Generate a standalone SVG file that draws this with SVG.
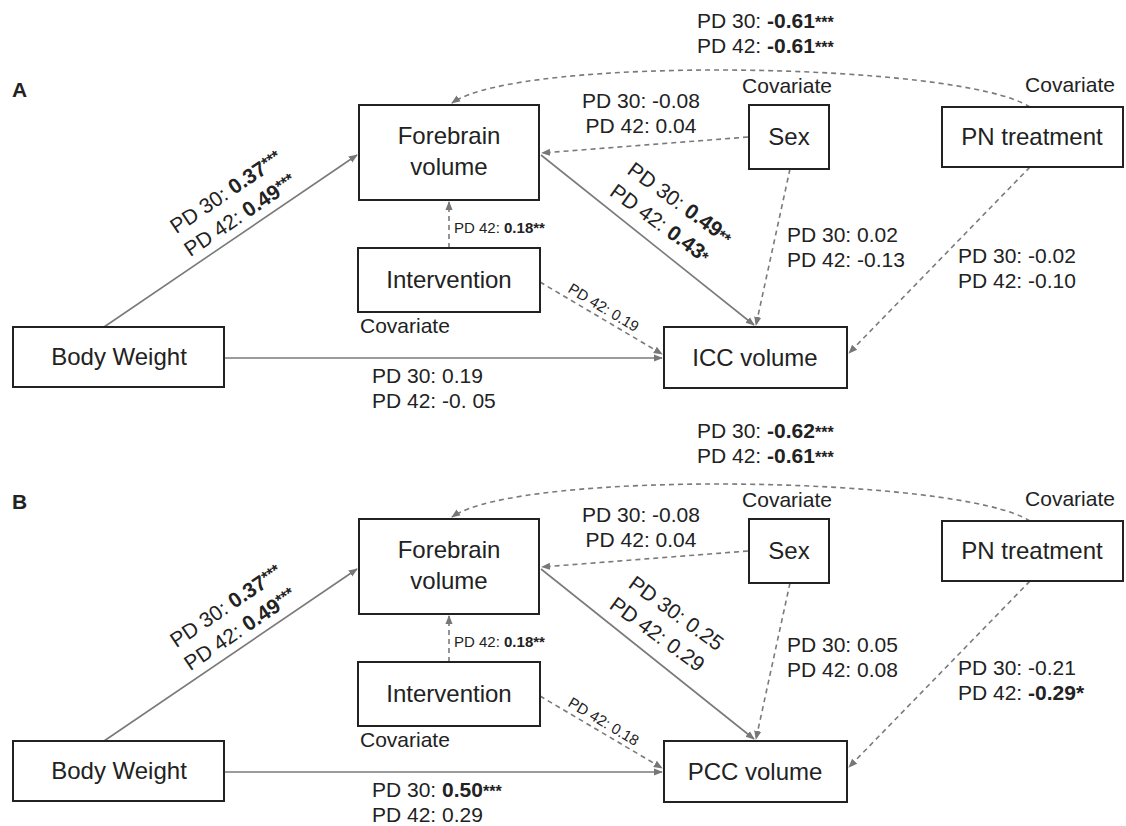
<svg xmlns="http://www.w3.org/2000/svg" width="1126" height="826" viewBox="0 0 1126 826">
<style>
text{font-family:"Liberation Sans",Arial,sans-serif;fill:#222}
.box{fill:#fff;stroke:#222;stroke-width:2}
.nt{font-size:24px;text-anchor:middle}
.lb{font-size:21px}
.sm{font-size:15px}
.b{font-weight:bold}
.st{font-size:16px;font-weight:bold}
.ln{fill:none;stroke:#7a7a7a;stroke-width:1.6}
.ds{stroke-dasharray:5,4}
.pl{font-size:21px;font-weight:bold}
</style>
<defs>
<marker id="ah" viewBox="0 0 10 10" refX="9" refY="5" markerWidth="9" markerHeight="9" markerUnits="userSpaceOnUse" orient="auto"><path d="M0,1 L10,5 L0,9 z" fill="#777"/></marker>
</defs>
<rect width="1126" height="826" fill="#fff"/>

<!-- Panel A -->
<g id="panelA">
<text class="pl" x="12" y="97">A</text>
<g id="connectorsA">
<path class="ln" d="M104,327 L357,155" marker-end="url(#ah)"/>
<path class="ln" d="M224,358 L662,358" marker-end="url(#ah)"/>
<path class="ln ds" d="M449,248 L449,202" marker-end="url(#ah)"/>
<path class="ln ds" d="M540,282 L662,354" marker-end="url(#ah)"/>
<path class="ln" d="M541,155 L754,325" marker-end="url(#ah)"/>
<path class="ln ds" d="M748,137 L542,153" marker-end="url(#ah)"/>
<path class="ln ds" d="M790,169 L756,325" marker-end="url(#ah)"/>
<path class="ln ds" d="M1030,167 L849,353" marker-end="url(#ah)"/>
<path class="ln ds" d="M1030,107 C960,62 520,55 452,103" marker-end="url(#ah)"/>
</g>
<g id="A-forebrain"><rect class="box" x="359" y="105" width="180" height="95"/><text class="nt" x="449" y="144">Forebrain</text><text class="nt" x="449" y="175">volume</text></g>
<g id="A-intervention"><rect class="box" x="358" y="248" width="182" height="64"/><text class="nt" x="449" y="288">Intervention</text><text class="lb" x="360" y="333">Covariate</text></g>
<g id="A-bodyweight"><rect class="box" x="13" y="327" width="211" height="60"/><text class="nt" x="119" y="365">Body Weight</text></g>
<g id="A-icc"><rect class="box" x="664" y="327" width="183" height="61"/><text class="nt" x="755" y="366">ICC volume</text></g>
<g id="A-sex"><rect class="box" x="749" y="105" width="80" height="64"/><text class="nt" x="789" y="145">Sex</text><text class="lb" x="787" y="93" text-anchor="middle">Covariate</text></g>
<g id="A-pn"><rect class="box" x="942" y="107" width="181" height="60"/><text class="nt" x="1032" y="145">PN treatment</text><text class="lb" x="1070" y="92" text-anchor="middle">Covariate</text></g>
<g id="labelsA">
<text class="lb" x="697" y="28">PD 30: <tspan class="b">-0.61</tspan><tspan class="st">***</tspan></text>
<text class="lb" x="697" y="53">PD 42: <tspan class="b">-0.61</tspan><tspan class="st">***</tspan></text>
<text class="lb" x="641" y="108" text-anchor="middle">PD 30: -0.08</text>
<text class="lb" x="641" y="133" text-anchor="middle">PD 42: 0.04</text>
<text class="lb" text-anchor="middle" transform="translate(230,198) rotate(-34)">PD 30: <tspan class="b">0.37</tspan><tspan class="st" dy="-4">***</tspan></text>
<text class="lb" text-anchor="middle" transform="translate(244,221) rotate(-34)">PD 42: <tspan class="b">0.49</tspan><tspan class="st" dy="-4">***</tspan></text>
<text class="lb" text-anchor="middle" transform="translate(676,209) rotate(36)">PD 30: <tspan class="b">0.49</tspan><tspan class="st">**</tspan></text>
<text class="lb" text-anchor="middle" transform="translate(656,229) rotate(36)">PD 42: <tspan class="b">0.43</tspan><tspan class="st">*</tspan></text>
<text class="sm" x="454" y="233">PD 42: <tspan class="b">0.18**</tspan></text>
<text class="sm" text-anchor="middle" transform="translate(601,312) rotate(31)">PD 42: 0.19</text>
<text class="lb" x="787" y="242">PD 30: 0.02</text>
<text class="lb" x="787" y="267">PD 42: -0.13</text>
<text class="lb" x="958" y="263">PD 30: -0.02</text>
<text class="lb" x="958" y="288">PD 42: -0.10</text>
<text class="lb" x="372" y="383">PD 30: 0.19</text>
<text class="lb" x="372" y="408">PD 42: -0. 05</text>
</g>
</g>

<!-- Panel B -->
<g id="panelB" transform="translate(0,414)">
<text class="pl" x="12" y="95">B</text>
<g id="connectorsB">
<path class="ln" d="M104,327 L357,155" marker-end="url(#ah)"/>
<path class="ln" d="M224,358 L662,358" marker-end="url(#ah)"/>
<path class="ln ds" d="M449,248 L449,202" marker-end="url(#ah)"/>
<path class="ln ds" d="M540,282 L662,354" marker-end="url(#ah)"/>
<path class="ln" d="M541,155 L754,325" marker-end="url(#ah)"/>
<path class="ln ds" d="M748,137 L542,153" marker-end="url(#ah)"/>
<path class="ln ds" d="M790,169 L756,325" marker-end="url(#ah)"/>
<path class="ln ds" d="M1030,167 L849,353" marker-end="url(#ah)"/>
<path class="ln ds" d="M1030,107 C960,62 520,55 452,103" marker-end="url(#ah)"/>
</g>
<g id="B-forebrain"><rect class="box" x="359" y="105" width="180" height="95"/><text class="nt" x="449" y="144">Forebrain</text><text class="nt" x="449" y="175">volume</text></g>
<g id="B-intervention"><rect class="box" x="358" y="248" width="182" height="64"/><text class="nt" x="449" y="288">Intervention</text><text class="lb" x="360" y="333">Covariate</text></g>
<g id="B-bodyweight"><rect class="box" x="13" y="327" width="211" height="60"/><text class="nt" x="119" y="365">Body Weight</text></g>
<g id="B-pcc"><rect class="box" x="664" y="327" width="183" height="61"/><text class="nt" x="755" y="366">PCC volume</text></g>
<g id="B-sex"><rect class="box" x="749" y="105" width="80" height="64"/><text class="nt" x="789" y="145">Sex</text><text class="lb" x="787" y="93" text-anchor="middle">Covariate</text></g>
<g id="B-pn"><rect class="box" x="942" y="107" width="181" height="60"/><text class="nt" x="1032" y="145">PN treatment</text><text class="lb" x="1070" y="92" text-anchor="middle">Covariate</text></g>
<g id="labelsB">
<text class="lb" x="697" y="24">PD 30: <tspan class="b">-0.62</tspan><tspan class="st">***</tspan></text>
<text class="lb" x="697" y="49">PD 42: <tspan class="b">-0.61</tspan><tspan class="st">***</tspan></text>
<text class="lb" x="641" y="108" text-anchor="middle">PD 30: -0.08</text>
<text class="lb" x="641" y="133" text-anchor="middle">PD 42: 0.04</text>
<text class="lb" text-anchor="middle" transform="translate(230,198) rotate(-34)">PD 30: <tspan class="b">0.37</tspan><tspan class="st" dy="-4">***</tspan></text>
<text class="lb" text-anchor="middle" transform="translate(244,221) rotate(-34)">PD 42: <tspan class="b">0.49</tspan><tspan class="st" dy="-4">***</tspan></text>
<text class="lb" text-anchor="middle" transform="translate(672,205) rotate(36)">PD 30: 0.25</text>
<text class="lb" text-anchor="middle" transform="translate(653,226) rotate(36)">PD 42: 0.29</text>
<text class="sm" x="454" y="233">PD 42: <tspan class="b">0.18**</tspan></text>
<text class="sm" text-anchor="middle" transform="translate(601,312) rotate(31)">PD 42: 0.18</text>
<text class="lb" x="787" y="238">PD 30: 0.05</text>
<text class="lb" x="787" y="263">PD 42: 0.08</text>
<text class="lb" x="958" y="261">PD 30: -0.21</text>
<text class="lb" x="958" y="286">PD 42: <tspan class="b">-0.29*</tspan></text>
<text class="lb" x="372" y="383">PD 30: <tspan class="b">0.50</tspan><tspan class="st">***</tspan></text>
<text class="lb" x="372" y="408">PD 42: 0.29</text>
</g>
</g>
</svg>
